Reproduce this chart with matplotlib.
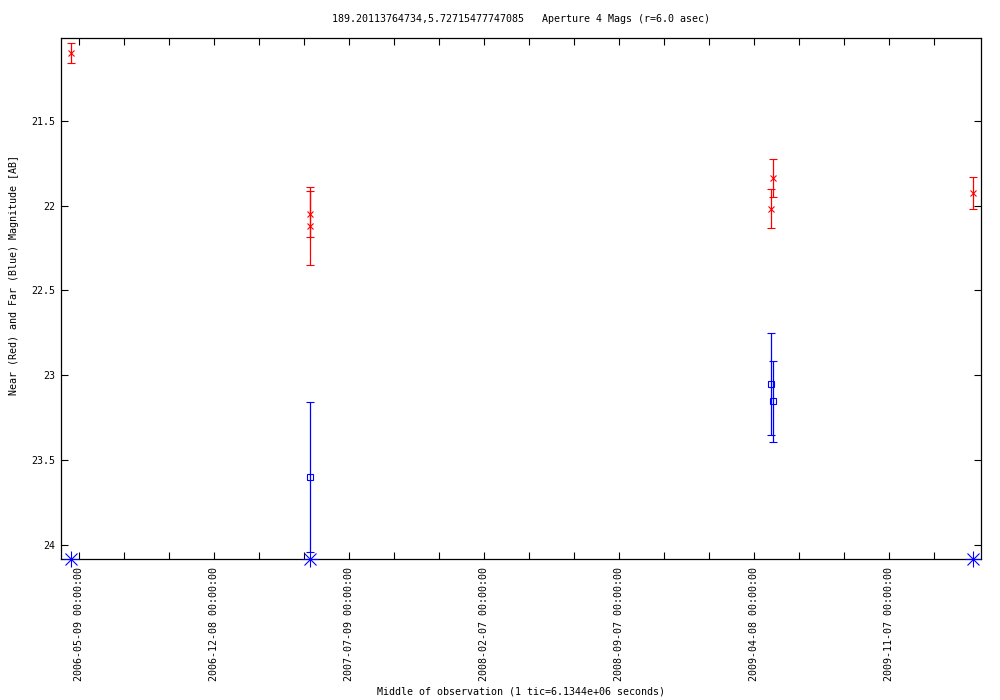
import numpy as np
import matplotlib
matplotlib.use('Agg')
import matplotlib.pyplot as plt
import matplotlib.dates as mdates

# near aperture (red)
near_dates = ['2006-04-26', '2007-05-08', '2007-05-08', '2009-05-04', '2009-05-08', '2010-03-19']
near_mag = [21.10, 22.05, 22.12, 22.02, 21.84, 21.925]
near_err = [0.06, 0.135, 0.23, 0.115, 0.112, 0.094]

# far aperture (blue)
far_dates = ['2007-05-08', '2009-05-04', '2009-05-08']
far_mag = [23.60, 23.05, 23.155]
far_err = [0.44, 0.30, 0.24]

# far non-detections, drawn at the bottom of the range
limit_dates = ['2006-04-26', '2007-05-08', '2010-03-19']
limit_mag = [24.084, 24.084, 24.084]

tick_start = '2006-05-09'
tick_days = 71          # 1 tic = 6.1344e+06 seconds
n_ticks = 20

title = '189.20113764734,5.72715477747085   Aperture 4 Mags (r=6.0 asec)'
xlabel = 'Middle of observation (1 tic=6.1344e+06 seconds)'
ylabel = 'Near (Red) and Far (Blue) Magnitude [AB]'


def to_num(d):
    return mdates.date2num(np.array(d, dtype='datetime64[D]'))


plt.rcParams['font.family'] = 'DejaVu Sans Mono'
fs = 7.2

fig = plt.figure(figsize=(10, 7), dpi=100)
ax = fig.add_axes([0.0613, 1 - 559 / 700, 0.981 - 0.0613, (559 - 38.3) / 700])

ax.errorbar(to_num(near_dates), near_mag, yerr=near_err, fmt='x', color='red',
            ms=5, mew=0.8, elinewidth=0.9, capsize=3, capthick=0.9)
ax.errorbar(to_num(far_dates), far_mag, yerr=far_err, fmt='s', color='blue',
            mfc='none', ms=4.3, mew=0.8, elinewidth=0.9, capsize=3, capthick=0.9)
# gnuplot style star: plus and cross overlaid
ax.plot(to_num(limit_dates), limit_mag, ls='none', marker='x', color='blue',
        ms=8.5, mew=0.8, clip_on=False, zorder=5)
ax.plot(to_num(limit_dates), limit_mag, ls='none', marker='+', color='blue',
        ms=11, mew=0.8, clip_on=False, zorder=5)

ax.set_xlim(to_num('2006-04-11'), to_num('2010-04-01'))
ax.set_ylim(24.084, 21.0135)

ticks = np.datetime64(tick_start) + np.arange(n_ticks) * np.timedelta64(tick_days, 'D')
tnum = mdates.date2num(ticks)
ax.set_xticks(tnum[::3])
ax.set_xticklabels([str(t) + ' 00:00:00' for t in ticks[::3]], rotation=90,
                   fontsize=fs, va='top')
ax.set_xticks(tnum, minor=True)

yt = [21.5, 22, 22.5, 23, 23.5, 24]
ax.set_yticks(yt)
ax.set_yticklabels(['21.5', '22', '22.5', '23', '23.5', '24'], fontsize=fs)

ax.tick_params(which='both', direction='in', length=5, width=0.8,
               top=True, right=True, bottom=True, left=True)
ax.tick_params(axis='x', pad=6)
ax.tick_params(axis='y', pad=4)
for s in ax.spines.values():
    s.set_linewidth(0.9)

fig.text(0.521, 1 - 19 / 700, title, ha='center', va='center', fontsize=fs)
fig.text(0.521, 1 - 691 / 700, xlabel, ha='center', va='center', fontsize=fs)
fig.text(0.014, 1 - 275 / 700, ylabel, ha='center', va='center', rotation=90, fontsize=fs)

fig.savefig('out.png', dpi=100)
